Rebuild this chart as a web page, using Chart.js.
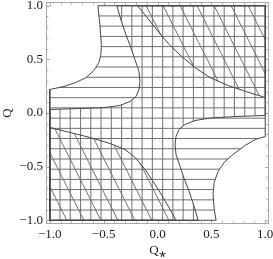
<!DOCTYPE html>
<html>
<head>
<meta charset="utf-8">
<script src="https://cdn.jsdelivr.net/npm/chart.js@4.4.0/dist/chart.umd.min.js"></script>
<style>
  html, body { margin: 0; padding: 0; background: #fff; }
  canvas { display: block; }
</style>
</head>
<body>
<canvas id="plot" width="273" height="259"></canvas>
<script>
// tick labels on both axes
const TICKS = [-1, -0.5, 0, 0.5, 1];

// boundary curves (Q* values, Q values)
const W1_QS = [-0.553, -0.535, -0.521, -0.526, -0.544, -0.591, -0.665, -0.758, -0.870, -1.0];
const W1_Q  = [1.0, 0.823, 0.637, 0.544, 0.470, 0.395, 0.330, 0.284, 0.247, 0.219];
const W2_QS = [0.544, 0.526, 0.516, 0.526, 0.563, 0.619, 0.702, 0.814, 0.907, 1.0];
const W2_Q  = [-1.0, -0.898, -0.758, -0.647, -0.544, -0.460, -0.386, -0.302, -0.247, -0.219];

const VL_QS = [-0.377, -0.340, -0.293, -0.247, -0.209, -0.172, -0.163, -0.172, -0.200, -0.256, -0.349, -0.488, -0.721, -1.0];
const VL_Q  = [1.0, 0.870, 0.730, 0.609, 0.498, 0.386, 0.293, 0.219, 0.153, 0.107, 0.070, 0.051, 0.042, 0.033];
const VR_QS = [0.377, 0.340, 0.293, 0.247, 0.209, 0.172, 0.163, 0.172, 0.200, 0.256, 0.349, 0.488, 0.721, 1.0];
const VR_Q  = [-1.0, -0.870, -0.730, -0.609, -0.498, -0.386, -0.293, -0.219, -0.153, -0.107, -0.070, -0.047, -0.033, -0.023];

const DU_QS = [-0.185, -0.080, 0.015, 0.110, 0.225, 0.349, 0.488, 0.656, 0.823, 1.0];
const DU_Q  = [1.0, 0.870, 0.749, 0.637, 0.526, 0.423, 0.330, 0.256, 0.200, 0.144];
const DL_QS = [-1.0, -0.814, -0.628, -0.442, -0.302, -0.209, -0.116, -0.023, 0.051, 0.116, 0.172];
const DL_Q  = [-0.135, -0.181, -0.228, -0.284, -0.340, -0.414, -0.526, -0.665, -0.786, -0.898, -1.0];

// hatch line levels (mesh lines)
const H_LEVELS = [-0.905, -0.810, -0.714, -0.619, -0.524, -0.429, -0.333, -0.238, -0.143, -0.048,
                  0.048, 0.143, 0.238, 0.333, 0.429, 0.524, 0.619, 0.714, 0.810, 0.905];
const V_LEVELS = H_LEVELS;
// diagonal lines Q* + Q/2 = c
const D_LEVELS = [-1.342, -1.184, -1.026, -0.868, -0.711, -0.553, -0.395, -0.237, -0.079,
                  0.079, 0.237, 0.395, 0.553, 0.711, 0.868, 1.026, 1.184, 1.342];

const pts = (xs, ys) => xs.map((v, i) => ({x: v, y: ys[i]}));
const LO = -1, HI = 1;

const w1 = pts(W1_QS, W1_Q), w2 = pts(W2_QS, W2_Q);
const vl = pts(VL_QS, VL_Q), vr = pts(VR_QS, VR_Q);
const du = pts(DU_QS, DU_Q), dl = pts(DL_QS, DL_Q);

const hRegion = [...w1, {x: LO, y: LO}, ...w2, {x: HI, y: HI}, w1[0]];
const vRegion = [...vl, {x: LO, y: LO}, ...vr, {x: HI, y: HI}, vl[0]];
const duRegion = [...du, {x: HI, y: HI}, du[0]];
const dlRegion = [...dl, {x: LO, y: LO}, dl[0]];

const fmt = v => v.toFixed(1).replace('-', '\u2212');
const serif = {family: 'Liberation Serif', size: 13};

const hatchPlugin = {
  id: 'hatch',
  beforeDatasetsDraw(chart) {
    const {ctx, chartArea: a, scales: {x, y}} = chart;
    // frame + inner ticks
    ctx.save();
    ctx.strokeStyle = '#a8a8a8';
    ctx.lineWidth = 1;
    ctx.strokeRect(a.left + 0.5, a.top + 0.5, a.right - a.left - 1, a.bottom - a.top - 1);
    ctx.beginPath();
    for (let i = -10; i <= 10; i++) {
      const v = i / 10;
      const len = (i % 5 === 0) ? 4 : 2.5;
      const px = Math.round(x.getPixelForValue(v)) + 0.5;
      const py = Math.round(y.getPixelForValue(v)) + 0.5;
      ctx.moveTo(px, a.bottom); ctx.lineTo(px, a.bottom - len);
      ctx.moveTo(px, a.top); ctx.lineTo(px, a.top + len);
      ctx.moveTo(a.left, py); ctx.lineTo(a.left + len, py);
      ctx.moveTo(a.right, py); ctx.lineTo(a.right - len, py);
    }
    ctx.stroke();
    ctx.restore();

    // hatching clipped to each region
    chart.data.datasets.forEach((ds, i) => {
      const meta = chart.getDatasetMeta(i);
      ctx.save();
      ctx.beginPath();
      meta.data.forEach((p, k) => k ? ctx.lineTo(p.x, p.y) : ctx.moveTo(p.x, p.y));
      ctx.closePath();
      ctx.clip();
      ctx.strokeStyle = '#707070';
      ctx.lineWidth = 1;
      ctx.beginPath();
      if (ds.hatch === 'h') {
        H_LEVELS.forEach(v => {
          ctx.moveTo(x.getPixelForValue(LO), y.getPixelForValue(v));
          ctx.lineTo(x.getPixelForValue(HI), y.getPixelForValue(v));
        });
      } else if (ds.hatch === 'v') {
        V_LEVELS.forEach(v => {
          ctx.moveTo(x.getPixelForValue(v), y.getPixelForValue(LO));
          ctx.lineTo(x.getPixelForValue(v), y.getPixelForValue(HI));
        });
      } else {
        D_LEVELS.forEach(c => {
          ctx.moveTo(x.getPixelForValue(c - 0.5), y.getPixelForValue(HI));
          ctx.lineTo(x.getPixelForValue(c + 0.5), y.getPixelForValue(LO));
        });
      }
      ctx.stroke();
      ctx.restore();
    });
  }
};

const lineStyle = {showLine: true, borderColor: '#454545', borderWidth: 1, pointRadius: 0, tension: 0, fill: false};

new Chart(document.getElementById('plot'), {
  type: 'scatter',
  data: {
    datasets: [
      {data: hRegion, hatch: 'h', ...lineStyle},
      {data: vRegion, hatch: 'v', ...lineStyle},
      {data: duRegion, hatch: 'd', ...lineStyle},
      {data: dlRegion, hatch: 'd', ...lineStyle}
    ]
  },
  options: {
    responsive: false,
    animation: false,
    devicePixelRatio: 1,
    layout: {padding: {left: 0, right: 4, top: 2, bottom: 0}},
    plugins: {legend: {display: false}, tooltip: {enabled: false}},
    scales: {
      x: {
        type: 'linear', min: -1.035, max: 1.035,
        afterBuildTicks: s => { s.ticks = TICKS.map(v => ({value: v})); },
        afterFit: s => { s.height = 35; s.paddingLeft = 0; s.paddingRight = 0; },
        grid: {display: false, drawTicks: false},
        border: {display: false},
        ticks: {padding: 3, maxRotation: 0, autoSkip: false, font: serif, color: '#1a1a1a', callback: fmt},
        title: {display: true, text: 'Q\u204E', font: serif, color: '#1a1a1a', padding: {top: 0, bottom: 1}}
      },
      y: {
        type: 'linear', min: -1.035, max: 1.035,
        afterBuildTicks: s => { s.ticks = TICKS.map(v => ({value: v})); },
        afterFit: s => { s.width = 46; s.paddingTop = 0; s.paddingBottom = 0; },
        grid: {display: false, drawTicks: false},
        border: {display: false},
        ticks: {padding: 3, autoSkip: false, font: serif, color: '#1a1a1a', callback: fmt},
        title: {display: true, text: 'Q', font: serif, color: '#1a1a1a', padding: {top: 0, bottom: 0}}
      }
    }
  },
  plugins: [hatchPlugin]
});
</script>
</body>
</html>
